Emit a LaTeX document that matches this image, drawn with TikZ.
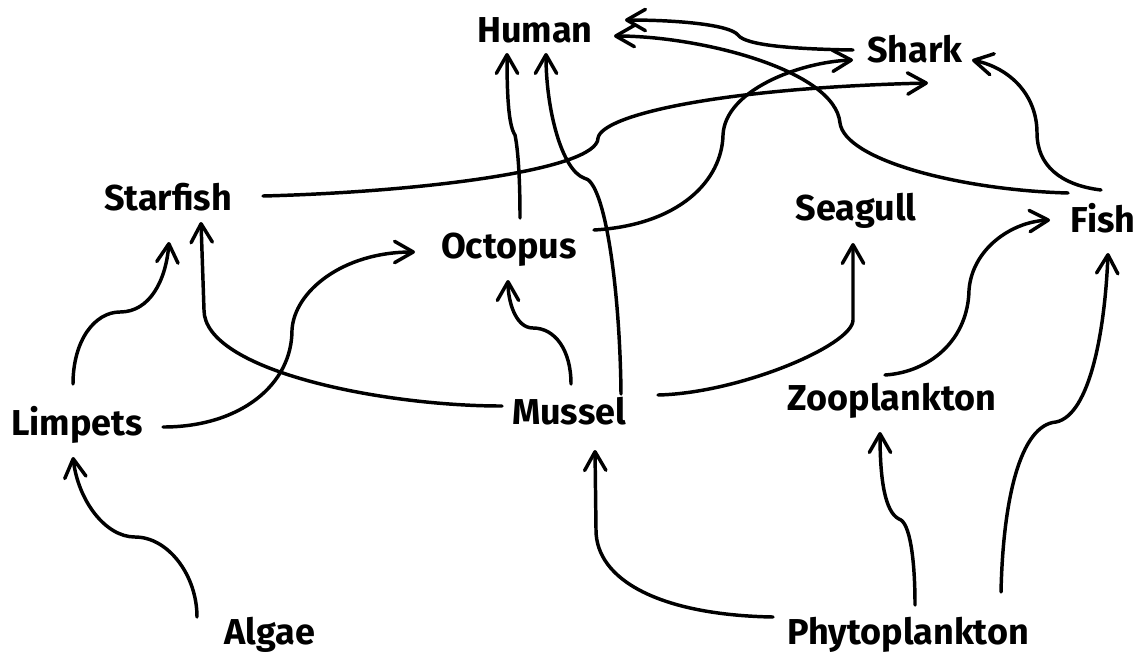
\documentclass[tikz,border=0pt]{standalone}
\usepackage{fontspec}
\setmainfont{Fira Sans}
\usepackage{tikz}
\usetikzlibrary{arrows.meta, calc}
\tikzset{
  sp/.style={anchor=base, inner sep=0pt, font=\fontsize{27}{32}\selectfont\bfseries},
  arr/.style={-{Straight Barb[length=14pt, width=16pt, round]}, line width=2.6pt, line cap=round, line join=round, draw=black},
}

\begin{document}
\begin{tikzpicture}[x=0.75pt, y=-0.75pt]
  \useasboundingbox (0,0) rectangle (1144,654);
  % species
  \node[sp] (human) at (535,42) {Human};
  \node[sp] (shark) at (915,62) {Shark};
  \node[sp] (starfish) at (168,210) {Starfish};
  \node[sp] (octopus) at (509,258) {Octopus};
  \node[sp] (seagull) at (856,220) {Seagull};
  \node[sp] (fish) at (1103,232) {Fish};
  \node[sp] (limpets) at (77,435) {Limpets};
  \node[sp] (mussel) at (569,424) {Mussel};
  \node[sp] (zoo) at (892,410) {Zooplankton};
  \node[sp] (algae) at (270,644) {Algae};
  \node[sp] (phyto) at (908,644) {Phytoplankton};
  % who eats whom
  \draw[arr] ($(algae.base)+(-73,-27)$) .. controls (197,575) and (168,537) .. (135,537)
    .. controls (105,537) and (78,500) .. ($(limpets.base)+(-4,22)$);
  \draw[arr] ($(limpets.base)+(-4,-51)$) .. controls (73,340) and (95,312) .. (120,312)
    .. controls (150,312) and (166,280) .. ($(starfish.base)+(1,32)$);
  \draw[arr] ($(limpets.base)+(86,-8)$) .. controls (240,427) and (292,385) .. (292,330)
    .. controls (294,292) and (342,252) .. ($(octopus.base)+(-94,-6)$);
  \draw[arr] ($(mussel.base)+(-67,-18)$) .. controls (380,406) and (204,370) .. (204,310)
    -- ($(starfish.base)+(33,12)$);
  \draw[arr] ($(mussel.base)+(2,-40)$) .. controls (571,350) and (555,328) .. (533,328)
    .. controls (515,328) and (508,300) .. ($(octopus.base)+(-1,22)$);
  \draw[arr] ($(mussel.base)+(52,-30)$) .. controls (620,290) and (605,180) .. (584,178)
    .. controls (562,170) and (546,110) .. ($(human.base)+(11,11)$);
  \draw[arr] ($(octopus.base)+(11,-40)$) .. controls (520,160) and (516,140) .. (515,135)
    .. controls (508,125) and (507,90) .. ($(human.base)+(-28,11)$);
  \draw[arr] ($(octopus.base)+(85,-28)$) .. controls (680,225) and (722,180) .. (723,135)
    .. controls (725,90) and (800,62) .. ($(shark.base)+(-62,-2)$);
  \draw[arr] ($(starfish.base)+(95,-14)$) .. controls (420,192) and (598,170) .. (598,138)
    .. controls (602,115) and (720,88) .. ($(shark.base)+(13,21)$);
  \draw[arr] ($(shark.base)+(-62,-12)$) .. controls (790,49) and (745,45) .. (738,35)
    .. controls (730,25) and (680,20) .. ($(human.base)+(90,-22)$);
  \draw[arr] ($(fish.base)+(-35,-39)$) .. controls (960,190) and (845,160) .. (840,123)
    .. controls (835,70) and (700,36) .. ($(human.base)+(79,-6)$);
  \draw[arr] ($(fish.base)+(-2,-42)$) .. controls (1060,185) and (1037,165) .. (1037,133)
    .. controls (1037,95) and (1010,68) .. ($(shark.base)+(57,-2)$);
  \draw[arr] ($(mussel.base)+(89,-29)$) .. controls (740,393) and (853,345) .. (853,320)
    -- ($(seagull.base)+(-3,23)$);
  \draw[arr] ($(zoo.base)+(-7,-35)$) .. controls (930,372) and (968,340) .. (969,290)
    .. controls (972,250) and (1010,222) .. ($(fish.base)+(-53,-12)$);
  \draw[arr] ($(phyto.base)+(-135,-27)$) .. controls (660,615) and (596,580) .. (596,530)
    -- ($(mussel.base)+(26,26)$);
  \draw[arr] ($(phyto.base)+(7,-39)$) .. controls (915,560) and (910,522) .. (899,519)
    .. controls (885,512) and (880,480) .. ($(zoo.base)+(-12,22)$);
  \draw[arr] ($(phyto.base)+(93,-52)$) .. controls (1003,500) and (1020,425) .. (1056,422)
    .. controls (1090,415) and (1105,330) .. ($(fish.base)+(5,21)$);
\end{tikzpicture}
\end{document}
